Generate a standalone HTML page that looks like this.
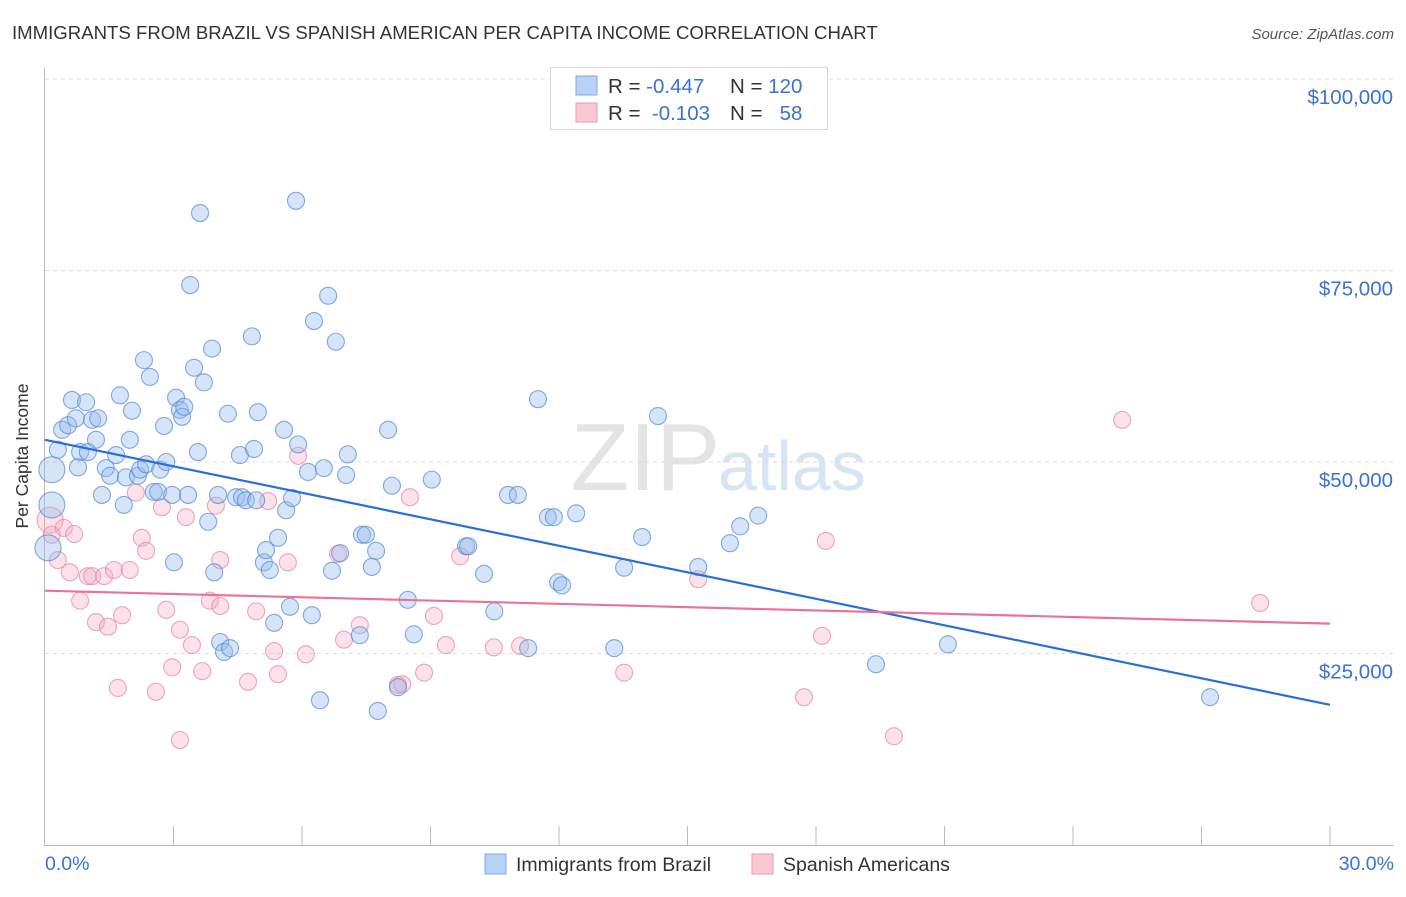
<!DOCTYPE html>
<html><head><meta charset="utf-8"><style>
body{margin:0;background:#fff;width:1406px;height:892px;overflow:hidden;font-family:"Liberation Sans",sans-serif}
svg text{font-family:"Liberation Sans",sans-serif}
</style></head><body>
<svg id="chart" width="1406" height="892">
<text x="12" y="39" font-size="18.6" fill="#333">IMMIGRANTS FROM BRAZIL VS SPANISH AMERICAN PER CAPITA INCOME CORRELATION CHART</text>
<text x="1394" y="39" font-size="15" fill="#555" font-style="italic" text-anchor="end">Source: ZipAtlas.com</text>
<text x="720" y="490" font-size="96" fill="#e4e4e4" text-anchor="end" font-family="Liberation Serif">ZIP</text>
<text x="718" y="490" font-size="70" fill="#d6e4f4">atlas</text>
<g id="grid"></g>
<g id="axes"></g>
<g id="pts"></g>
<g id="lines"></g>
<text x="28" y="456" font-size="17.5" fill="#333" text-anchor="middle" transform="rotate(-90 28 456)">Per Capita Income</text>
<g>
<rect x="550.5" y="67.5" width="277" height="62" fill="#fff" stroke="#d8d8d8"/>
<rect x="576" y="76" width="21" height="19" fill="#b8d2f4" stroke="#7fa8e6"/>
<rect x="576" y="103" width="21" height="19" fill="#f9c6d4" stroke="#ee98b2"/>
<text x="608" y="93" font-size="20.5" fill="#333">R = <tspan fill="#3a72d6">-0.447</tspan></text>
<text x="730" y="93" font-size="20.5" fill="#333">N = <tspan fill="#3a72d6">120</tspan></text>
<text x="608" y="120" font-size="20.5" fill="#333" xml:space="preserve">R =  <tspan fill="#3a72d6">-0.103</tspan></text>
<text x="730" y="120" font-size="20.5" fill="#333" xml:space="preserve">N =   <tspan fill="#3a72d6">58</tspan></text>
</g>
<g>
<rect x="485" y="854" width="21" height="20" fill="#b8d2f4" stroke="#7fa8e6"/>
<text x="516" y="871" font-size="19.5" fill="#333">Immigrants from Brazil</text>
<rect x="752" y="854" width="21" height="20" fill="#f9c6d4" stroke="#ee98b2"/>
<text x="783" y="871" font-size="19.5" fill="#333">Spanish Americans</text>
</g>
</svg>
<script>
const yTicks=[25000,50000,75000,100000];
const yTickLabels=["$25,000","$50,000","$75,000","$100,000"];
const xLabels=["0.0%","30.0%"];
const brazilX=[0.16,0.16,0.07,0.30,0.40,0.54,0.63,0.72,0.96,1.10,1.19,1.24,0.82,0.77,1.00,1.33,1.42,1.52,1.66,1.75,1.84,1.89,1.98,2.03,2.17,2.22,2.31,2.36,2.45,2.54,2.64,2.69,2.78,2.83,2.97,3.01,3.06,3.15,3.20,3.25,3.34,3.39,3.48,3.57,3.62,3.71,3.81,3.90,3.95,4.04,4.09,4.18,4.27,4.32,4.46,4.55,4.60,4.69,4.83,4.88,4.93,4.97,5.11,5.16,5.25,5.35,5.44,5.58,5.63,5.72,5.77,5.86,5.91,6.14,6.23,6.28,6.42,6.51,6.61,6.70,6.79,6.89,7.03,7.07,7.35,7.40,7.49,7.63,7.73,7.77,8.01,8.10,8.24,8.47,8.61,9.03,9.83,9.88,10.25,10.49,10.81,11.04,11.28,11.51,11.74,11.88,11.98,12.07,12.40,13.29,13.52,13.94,14.31,15.25,15.99,16.23,16.65,19.40,21.08,27.20];
const brazilY=[49.0,44.4,38.8,51.6,54.2,54.8,58.1,55.7,57.8,55.5,52.9,55.7,51.3,49.3,51.3,45.7,49.2,48.2,50.9,58.7,44.4,48.0,52.9,56.7,48.2,49.0,63.3,49.7,61.1,46.1,46.1,49.0,54.7,50.0,45.7,36.9,58.4,56.8,55.9,57.2,45.7,73.1,62.3,51.3,82.5,60.4,42.2,64.8,35.6,45.7,26.5,25.2,56.3,25.7,45.4,50.9,45.4,45.0,66.4,51.7,45.0,56.5,36.9,38.5,35.9,29.0,40.1,54.2,43.7,31.1,45.3,84.1,52.3,48.7,30.0,68.4,18.9,49.2,71.7,35.8,65.7,38.1,48.3,51.0,27.4,40.5,40.5,36.3,38.4,17.5,54.2,46.9,20.6,32.0,27.5,47.7,39.0,39.0,35.4,30.5,45.7,45.7,25.7,58.2,42.8,42.8,34.3,33.9,43.3,25.7,36.2,40.2,56.0,36.3,39.4,41.6,43.0,23.6,26.2,19.3];
const brazilBig=[0,1,2];
const spanX=[0.12,0.16,0.30,0.44,0.58,0.68,0.82,1.00,1.10,1.19,1.38,1.47,1.61,1.70,1.80,1.98,2.12,2.26,2.36,2.59,2.73,2.83,2.97,3.15,3.15,3.29,3.43,3.67,3.85,3.99,4.09,4.09,4.74,4.93,5.21,5.35,5.44,5.67,5.91,6.09,6.84,6.98,7.35,8.24,8.34,8.52,8.85,9.08,9.36,9.69,10.48,11.09,13.52,15.25,17.72,18.14,18.23,19.82,25.15,28.37];
const spanY=[42.4,40.5,37.2,41.4,35.6,40.6,31.9,35.1,35.1,29.1,35.1,28.5,35.9,20.5,30.0,35.9,46.0,40.1,38.4,20.0,44.1,30.7,23.2,13.7,28.1,42.8,26.1,22.7,31.9,44.3,37.2,31.2,21.3,30.5,44.9,25.3,22.3,36.9,50.8,24.9,38.0,26.8,28.7,20.9,21.0,45.4,22.5,29.9,26.1,37.7,25.8,26.0,22.5,34.7,19.3,27.3,39.7,14.2,55.5,31.6];
const spanBig=[0];
const brazilFit=[52.9,18.3];
const spanFit=[33.2,28.9];

const X0=45,X1=1330,Y0=845,PY=7.66;
const xs=v=>X0+(v/30)*(X1-X0);
const ys=k=>Y0-k*PY;
const NS="http://www.w3.org/2000/svg";
function mk(tag,attrs,parent){const e=document.createElementNS(NS,tag);for(const k in attrs)e.setAttribute(k,attrs[k]);document.getElementById(parent).appendChild(e);return e;}

yTicks.forEach((t,i)=>{
 const y=ys(t/1000);
 const g=mk('line',{x1:45,x2:1394,y1:y,y2:y,stroke:'#ddd','stroke-dasharray':'4,4'},'grid');
 
 
 const l=mk('text',{x:1393,y:y+25,'font-size':20.5,fill:'#3a72d6','text-anchor':'end'},'grid');
 l.textContent=yTickLabels[i];
 
 
});
const ax=mk('line',{x1:44.5,x2:44.5,y1:68,y2:845,stroke:'#bbb'},'axes');


const bx=mk('line',{x1:44,x2:1394,y1:845.5,y2:845.5,stroke:'#bbb'},'axes');


for(let i=1;i<=10;i++){
 const x=xs(i*3);
 const t=mk('line',{x1:x,x2:x,y1:826,y2:845,stroke:'#bbb'},'axes');
 
 
}
const xl0=mk('text',{x:45,y:870,'font-size':19.5,fill:'#3a72d6'},'axes');xl0.textContent=xLabels[0];


const xl1=mk('text',{x:1394,y:870,'font-size':19.5,fill:'#3a72d6','text-anchor':'end'},'axes');xl1.textContent=xLabels[1];



spanX.forEach((v,i)=>{
 const c=mk('circle',{cx:xs(v),cy:ys(spanY[i]),r:spanBig.includes(i)?13:8.5,fill:'rgba(244,170,192,0.35)',stroke:'rgba(232,130,160,0.7)','stroke-width':1.1},'pts');
 
 
});
brazilX.forEach((v,i)=>{
 const c=mk('circle',{cx:xs(v),cy:ys(brazilY[i]),r:brazilBig.includes(i)?13:8.5,fill:'rgba(150,188,236,0.4)',stroke:'rgba(80,135,215,0.7)','stroke-width':1.1},'pts');
 
 
});
const bl=mk('line',{x1:xs(0),x2:xs(30),y1:ys(brazilFit[0]),y2:ys(brazilFit[1]),stroke:'#2a6fd8','stroke-width':2.2},'lines');


const pl=mk('line',{x1:xs(0),x2:xs(30),y1:ys(spanFit[0]),y2:ys(spanFit[1]),stroke:'#e8729a','stroke-width':2.2},'lines');


</script>
</body></html>
